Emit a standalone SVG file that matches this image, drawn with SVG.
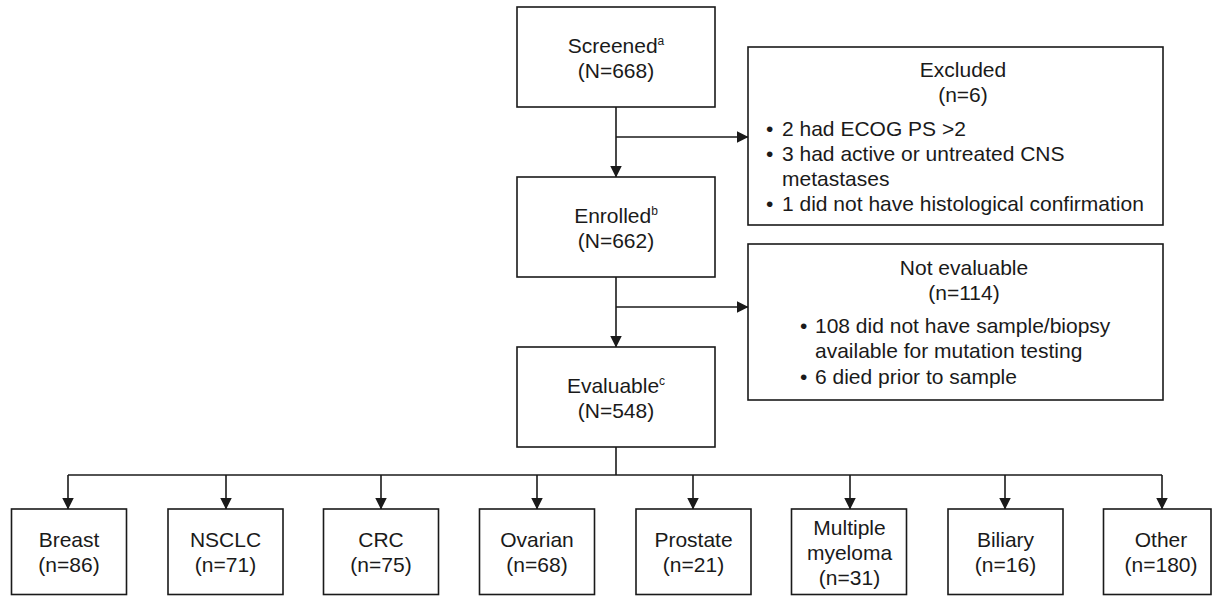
<svg xmlns="http://www.w3.org/2000/svg" width="1212" height="596" viewBox="0 0 1212 596">
<defs>
<marker id="ah" markerUnits="userSpaceOnUse" markerWidth="12" markerHeight="12" refX="11.5" refY="6" orient="auto">
<path d="M0,0 L12,6 L0,12 z" fill="#1a1a1a"/>
</marker>
<style>
.box{fill:#fff;stroke:#1a1a1a;stroke-width:1.6}
.ln{fill:none;stroke:#1a1a1a;stroke-width:1.6}
.t{font-family:"Liberation Sans",Arial,sans-serif;font-size:21px;fill:#1a1a1a}
.c{text-anchor:middle}
.sup{font-size:12px}
</style>
</defs>
<rect width="1212" height="596" fill="#fff"/>
<g id="connectors">
<line class="ln" x1="616" y1="107" x2="616" y2="177" marker-end="url(#ah)"/>
<line class="ln" x1="616" y1="137" x2="748" y2="137" marker-end="url(#ah)"/>
<line class="ln" x1="616" y1="277" x2="616" y2="347" marker-end="url(#ah)"/>
<line class="ln" x1="616" y1="307" x2="748" y2="307" marker-end="url(#ah)"/>
<line class="ln" x1="616" y1="447" x2="616" y2="475"/>
<line class="ln" x1="68" y1="475" x2="1162" y2="475"/>
<line class="ln" x1="68" y1="475" x2="68" y2="509" marker-end="url(#ah)"/>
<line class="ln" x1="226" y1="475" x2="226" y2="509" marker-end="url(#ah)"/>
<line class="ln" x1="381" y1="475" x2="381" y2="509" marker-end="url(#ah)"/>
<line class="ln" x1="537" y1="475" x2="537" y2="509" marker-end="url(#ah)"/>
<line class="ln" x1="693" y1="475" x2="693" y2="509" marker-end="url(#ah)"/>
<line class="ln" x1="850" y1="475" x2="850" y2="509" marker-end="url(#ah)"/>
<line class="ln" x1="1005" y1="475" x2="1005" y2="509" marker-end="url(#ah)"/>
<line class="ln" x1="1162" y1="475" x2="1162" y2="509" marker-end="url(#ah)"/>
</g>
<g id="screened">
<rect class="box" x="517" y="7" width="198" height="100"/>
<text class="t c" x="616" y="53">Screened<tspan class="sup" dy="-8">a</tspan></text>
<text class="t c" x="616" y="78">(N=668)</text>
</g>
<g id="excluded">
<rect class="box" x="748" y="47" width="415" height="178"/>
<text class="t c" x="963" y="77">Excluded</text>
<text class="t c" x="963" y="102">(n=6)</text>
<text class="t" x="766" y="136">•</text><text class="t" x="782" y="136">2 had ECOG PS &gt;2</text>
<text class="t" x="766" y="161">•</text><text class="t" x="782" y="161">3 had active or untreated CNS</text>
<text class="t" x="782" y="186">metastases</text>
<text class="t" x="766" y="211">•</text><text class="t" x="782" y="211">1 did not have histological confirmation</text>
</g>
<g id="enrolled">
<rect class="box" x="517" y="177" width="198" height="100"/>
<text class="t c" x="616" y="223">Enrolled<tspan class="sup" dy="-8">b</tspan></text>
<text class="t c" x="616" y="248">(N=662)</text>
</g>
<g id="not-evaluable">
<rect class="box" x="748" y="244" width="415" height="156"/>
<text class="t c" x="964" y="275">Not evaluable</text>
<text class="t c" x="964" y="300">(n=114)</text>
<text class="t" x="800" y="333">•</text><text class="t" x="815" y="333">108 did not have sample/biopsy</text>
<text class="t" x="815" y="358">available for mutation testing</text>
<text class="t" x="800" y="384">•</text><text class="t" x="815" y="384">6 died prior to sample</text>
</g>
<g id="evaluable">
<rect class="box" x="517" y="347" width="198" height="100"/>
<text class="t c" x="616" y="393">Evaluable<tspan class="sup" dy="-8">c</tspan></text>
<text class="t c" x="616" y="418">(N=548)</text>
</g>
<g id="breast">
<rect class="box" x="11.5" y="509" width="115" height="85.5"/>
<text class="t c" x="69" y="547">Breast</text>
<text class="t c" x="69" y="572">(n=86)</text>
</g>
<g id="nsclc">
<rect class="box" x="168" y="509" width="115" height="85.5"/>
<text class="t c" x="225.5" y="547">NSCLC</text>
<text class="t c" x="225.5" y="572">(n=71)</text>
</g>
<g id="crc">
<rect class="box" x="323.5" y="509" width="115" height="85.5"/>
<text class="t c" x="381" y="547">CRC</text>
<text class="t c" x="381" y="572">(n=75)</text>
</g>
<g id="ovarian">
<rect class="box" x="479.5" y="509" width="115" height="85.5"/>
<text class="t c" x="537" y="547">Ovarian</text>
<text class="t c" x="537" y="572">(n=68)</text>
</g>
<g id="prostate">
<rect class="box" x="636" y="509" width="115" height="85.5"/>
<text class="t c" x="693.5" y="547">Prostate</text>
<text class="t c" x="693.5" y="572">(n=21)</text>
</g>
<g id="multiple-myeloma">
<rect class="box" x="791.5" y="509" width="115" height="85.5"/>
<text class="t c" x="849.5" y="535">Multiple</text>
<text class="t c" x="849.5" y="560">myeloma</text>
<text class="t c" x="849.5" y="585">(n=31)</text>
</g>
<g id="biliary">
<rect class="box" x="948" y="509" width="115" height="85.5"/>
<text class="t c" x="1005.5" y="547">Biliary</text>
<text class="t c" x="1005.5" y="572">(n=16)</text>
</g>
<g id="other">
<rect class="box" x="1103.5" y="509" width="107.5" height="85.5"/>
<text class="t c" x="1161" y="547">Other</text>
<text class="t c" x="1161" y="572">(n=180)</text>
</g>
</svg>
